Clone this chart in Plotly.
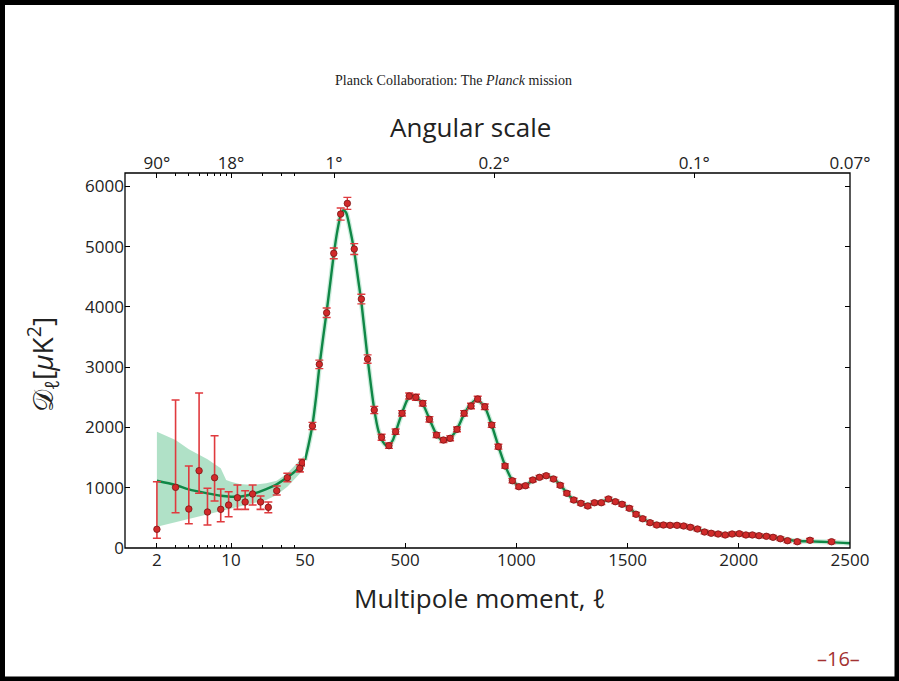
import plotly.graph_objects as go
import math

# ---------------- data ----------------
# low-ell data points (log part of axis)
ell_lo = [2, 3, 4, 5, 6, 7, 8, 9.5, 11.5, 13.6, 16, 19, 22.5, 27, 34, 44.6, 47]
D_lo = [310, 1006, 647, 1282, 597, 1166, 641, 713, 834, 763, 896, 763, 675, 950, 1166, 1322, 1415]
D_lo_up = [1100, 2454, 1360, 2570, 990, 1862, 978, 934, 1045, 950, 1045, 862, 763, 1028, 1239, 1382, 1470]
D_lo_dn = [161, 585, 403, 907, 381, 779, 436, 519, 641, 641, 713, 641, 585, 879, 1100, 1262, 1360]

# high-ell binned data points (linear part of axis)
ell_hi = [83, 114, 147, 179, 210, 240, 271, 303, 331, 361,
          394, 427, 457, 486, 518, 548, 579, 609, 641, 672,
          702, 733, 765, 796, 826, 858, 889, 919, 949, 982,
          1011, 1041, 1074, 1104, 1134, 1167, 1197, 1227, 1258, 1290,
          1321, 1351, 1382, 1414, 1445, 1475, 1508, 1538, 1568, 1601,
          1631, 1661, 1691, 1722, 1752, 1782, 1814, 1846, 1876, 1907,
          1939, 1970, 2002, 2032, 2061, 2091, 2124, 2154, 2187, 2219,
          2263, 2320, 2417]
D_hi = [2023, 3046, 3902, 4887, 5539, 5716, 4959, 4129, 3134, 2289,
        1836, 1697, 1929, 2234, 2521, 2499, 2400, 2134, 1874, 1791,
        1819, 1968, 2234, 2355, 2471, 2343, 2040, 1680, 1360, 1116,
        1017, 1033, 1128, 1172, 1199, 1144, 1040, 907, 796, 741,
        697, 751, 751, 813, 768, 725, 658, 559, 485, 420,
        381, 381, 376, 376, 365, 343, 315, 265, 244, 232,
        216, 232, 237, 216, 216, 204, 194, 177, 154, 121,
        104, 128, 104]
err_hi = [60, 70, 80, 90, 100, 100, 90, 80, 70, 60,
          50, 45, 45, 45, 50, 50, 45, 45, 40, 40,
          40, 40, 45, 45, 45, 45, 40, 40, 35, 35,
          30, 30, 30, 30, 30, 30, 30, 30, 30, 30,
          30, 30, 30, 30, 30, 30, 30, 30, 30, 30,
          30, 30, 30, 30, 30, 30, 30, 30, 30, 30,
          30, 30, 30, 30, 30, 30, 30, 30, 30, 30,
          30, 30, 30]

# best-fit model curve
ell_th_lo = [2, 3, 4, 6, 8, 10, 12, 16, 21.5, 27, 34, 42, 48, 50]
D_th_lo = [1116, 1045, 973, 907, 867, 851, 851, 896, 978, 1056, 1172, 1305, 1431, 1460]
ell_th_hi = [50, 65, 83, 100, 114, 130, 147, 165, 179, 195, 210, 222, 235, 250, 271, 290, 303,
             331, 361, 380, 400, 415, 430, 445, 457, 486, 510, 530, 548, 579, 609, 641, 665,
             685, 702, 733, 765, 796, 815, 830, 858, 889, 919, 949, 982, 1011, 1030, 1050,
             1074, 1104, 1130, 1150, 1167, 1197, 1227, 1258, 1290, 1321, 1351, 1382, 1414,
             1445, 1475, 1508, 1538, 1568, 1601, 1631, 1661, 1691, 1722, 1752, 1782, 1814,
             1846, 1876, 1907, 1939, 1970, 2002, 2032, 2061, 2091, 2124, 2154, 2187, 2219,
             2263, 2320, 2417, 2500]
D_th_hi = [1460, 1700, 2040, 2520, 3000, 3460, 3920, 4450, 4870, 5260, 5520, 5605, 5560, 5330,
           4920, 4420, 4080, 3150, 2300, 1940, 1760, 1700, 1710, 1790, 1920, 2240, 2460, 2520,
           2500, 2390, 2140, 1880, 1790, 1790, 1820, 1970, 2220, 2390, 2450, 2440, 2340, 2040,
           1690, 1370, 1120, 1030, 1030, 1060, 1120, 1170, 1195, 1180, 1150, 1050, 910, 800,
           740, 720, 740, 770, 795, 775, 730, 660, 570, 490, 425, 392, 382, 378, 372, 362,
           340, 310, 275, 248, 232, 226, 228, 230, 222, 214, 205, 193, 178, 158, 136, 115,
           110, 98, 78]

# cosmic-variance band at low ell
ell_band = [2, 3, 4, 6, 8, 9, 10, 12, 16, 21.5, 27, 34, 48, 50]
band_up = [1929, 1791, 1637, 1471, 1322, 1128, 1100, 1061, 1045, 1073, 1116, 1239, 1514, 1540]
band_lo = [353, 436, 492, 559, 619, 640, 658, 685, 741, 796, 879, 1017, 1294, 1380]

# axis ticks
bot_log_ticks = [2, 10, 50]
bot_lin_ticks = [500, 1000, 1500, 2000, 2500]
log_minor = [3, 4, 5, 6, 7, 8, 9, 20, 30, 40]
top_log_ticks = [2, 10]
top_log_text = ["90°", "18°"]
top_lin_ticks = [180, 900, 1800, 2500]
top_lin_text = ["1°", "0.2°", "0.1°", "0.07°"]
y_ticks = [0, 1000, 2000, 3000, 4000, 5000, 6000]

# ---------------- layout geometry ----------------
W, H = 899, 681
L, R, T, B = 125, 49, 173, 133
pw, ph = W - L - R, H - T - B
split = 0.2484  # fraction of width used by the log part (ell 1..50)

def px(x):
    return (x - L) / pw

def py(y):
    return (H - B - y) / ph

GREEN = "#0f8746"
BAND = "rgba(150,215,180,0.75)"
RED = "#d12a2a"
ERR = "#e03a3e"
FONT = "Open Sans"
TXT = "#222222"

fig = go.Figure()

# band (log part)
fig.add_trace(go.Scatter(
    x=ell_band + ell_band[::-1], y=band_up + band_lo[::-1],
    fill="toself", fillcolor=BAND, line=dict(width=0), mode="lines",
    xaxis="x", yaxis="y", hoverinfo="skip", showlegend=False))
# faint halo on linear part
fig.add_trace(go.Scatter(
    x=ell_th_hi, y=D_th_hi, mode="lines",
    line=dict(color="rgba(160,220,190,0.55)", width=5, shape="spline", smoothing=0.6),
    xaxis="x2", yaxis="y2", hoverinfo="skip", showlegend=False))
# model curve
fig.add_trace(go.Scatter(
    x=ell_th_lo, y=D_th_lo, mode="lines",
    line=dict(color=GREEN, width=2.4, shape="spline", smoothing=0.8),
    xaxis="x", yaxis="y", showlegend=False))
fig.add_trace(go.Scatter(
    x=ell_th_hi, y=D_th_hi, mode="lines",
    line=dict(color=GREEN, width=2.4, shape="spline", smoothing=0.6),
    xaxis="x2", yaxis="y2", showlegend=False))

# data points
fig.add_trace(go.Scatter(
    x=ell_lo, y=D_lo, mode="markers",
    marker=dict(color=RED, size=6.5, line=dict(color="#7a1515", width=0.8)),
    error_y=dict(type="data", symmetric=False,
                 array=[u - d for u, d in zip(D_lo_up, D_lo)],
                 arrayminus=[d - l for d, l in zip(D_lo, D_lo_dn)],
                 color=ERR, thickness=1.6, width=4),
    xaxis="x", yaxis="y", showlegend=False))
fig.add_trace(go.Scatter(
    x=ell_hi, y=D_hi, mode="markers",
    marker=dict(color=RED, size=6.5, line=dict(color="#7a1515", width=0.8)),
    error_y=dict(type="data", array=err_hi, color=ERR, thickness=1.4, width=4),
    xaxis="x2", yaxis="y2", showlegend=False))

# dummy traces for top axes
fig.add_trace(go.Scatter(x=[2], y=[0], mode="markers", marker=dict(opacity=0),
                         xaxis="x3", yaxis="y", hoverinfo="skip", showlegend=False))
fig.add_trace(go.Scatter(x=[1000], y=[0], mode="markers", marker=dict(opacity=0),
                         xaxis="x4", yaxis="y2", hoverinfo="skip", showlegend=False))

tickfont = dict(family=FONT, size=17, color=TXT)
common = dict(showgrid=False, zeroline=False, showline=False, ticks="inside",
              ticklen=5, tickwidth=1, tickcolor="black", tickfont=tickfont)
log_range = [0, math.log10(50)]

fig.update_layout(
    width=W, height=H,
    margin=dict(l=L, r=R, t=T, b=B, pad=0),
    paper_bgcolor="white", plot_bgcolor="white",
    showlegend=False,
    xaxis=dict(type="log", range=log_range, domain=[0, split], anchor="y",
               tickvals=bot_log_ticks, ticktext=[str(v) for v in bot_log_ticks],
               minor=dict(tickvals=log_minor, ticks="inside", ticklen=3, tickcolor="black"),
               **common),
    xaxis2=dict(type="linear", range=[50, 2500], domain=[split, 1], anchor="y2",
                tickvals=bot_lin_ticks, ticktext=[str(v) for v in bot_lin_ticks],
                **common),
    xaxis3=dict(type="log", range=log_range, overlaying="x", side="top", anchor="y",
                tickvals=top_log_ticks, ticktext=top_log_text,
                minor=dict(tickvals=log_minor + [50], ticks="inside", ticklen=3, tickcolor="black"),
                **common),
    xaxis4=dict(type="linear", range=[50, 2500], overlaying="x2", side="top", anchor="y2",
                tickvals=top_lin_ticks, ticktext=top_lin_text, **common),
    yaxis=dict(range=[0, 6220], domain=[0, 1], anchor="x",
               tickvals=y_ticks, ticktext=[str(v) for v in y_ticks], **common),
    yaxis2=dict(range=[0, 6220], domain=[0, 1], anchor="x2", matches="y", side="right",
                tickvals=y_ticks, showticklabels=False, **common),
)

# plot frame and slide border
fig.add_shape(type="rect", xref="paper", yref="paper", x0=0, x1=1, y0=0, y1=1,
              line=dict(color="black", width=1.3), layer="above")
fig.add_shape(type="rect", xref="paper", yref="paper",
              x0=px(2.5), x1=px(897), y0=py(2.5), y1=py(679),
              line=dict(color="black", width=5), layer="above")

# texts
fig.add_annotation(text="Angular scale", xref="paper", yref="paper",
                   x=px(470), y=py(127), showarrow=False, xanchor="center", yanchor="middle",
                   font=dict(family=FONT, size=26, color=TXT))
fig.add_annotation(text="Multipole moment, <i>ℓ</i>", xref="paper", yref="paper",
                   x=px(480), y=py(598), showarrow=False, xanchor="center", yanchor="middle",
                   font=dict(family=FONT, size=26, color=TXT))
fig.add_annotation(text="𝒟<sub>ℓ</sub>[<i>μ</i>K<sup>2</sup>]", xref="paper", yref="paper",
                   x=px(42), y=py(365), showarrow=False, textangle=-90,
                   xanchor="center", yanchor="middle",
                   font=dict(family=FONT, size=28, color=TXT))
fig.add_annotation(text="Planck Collaboration: The <i>Planck</i> mission", xref="paper", yref="paper",
                   x=px(453), y=py(80), showarrow=False, xanchor="center", yanchor="middle",
                   font=dict(family="Liberation Serif", size=14, color="#222"))
fig.add_annotation(text="–16–", xref="paper", yref="paper",
                   x=px(838), y=py(658), showarrow=False, xanchor="center", yanchor="middle",
                   font=dict(family=FONT, size=20, color="#a33232"))

fig.write_html("out.html")
